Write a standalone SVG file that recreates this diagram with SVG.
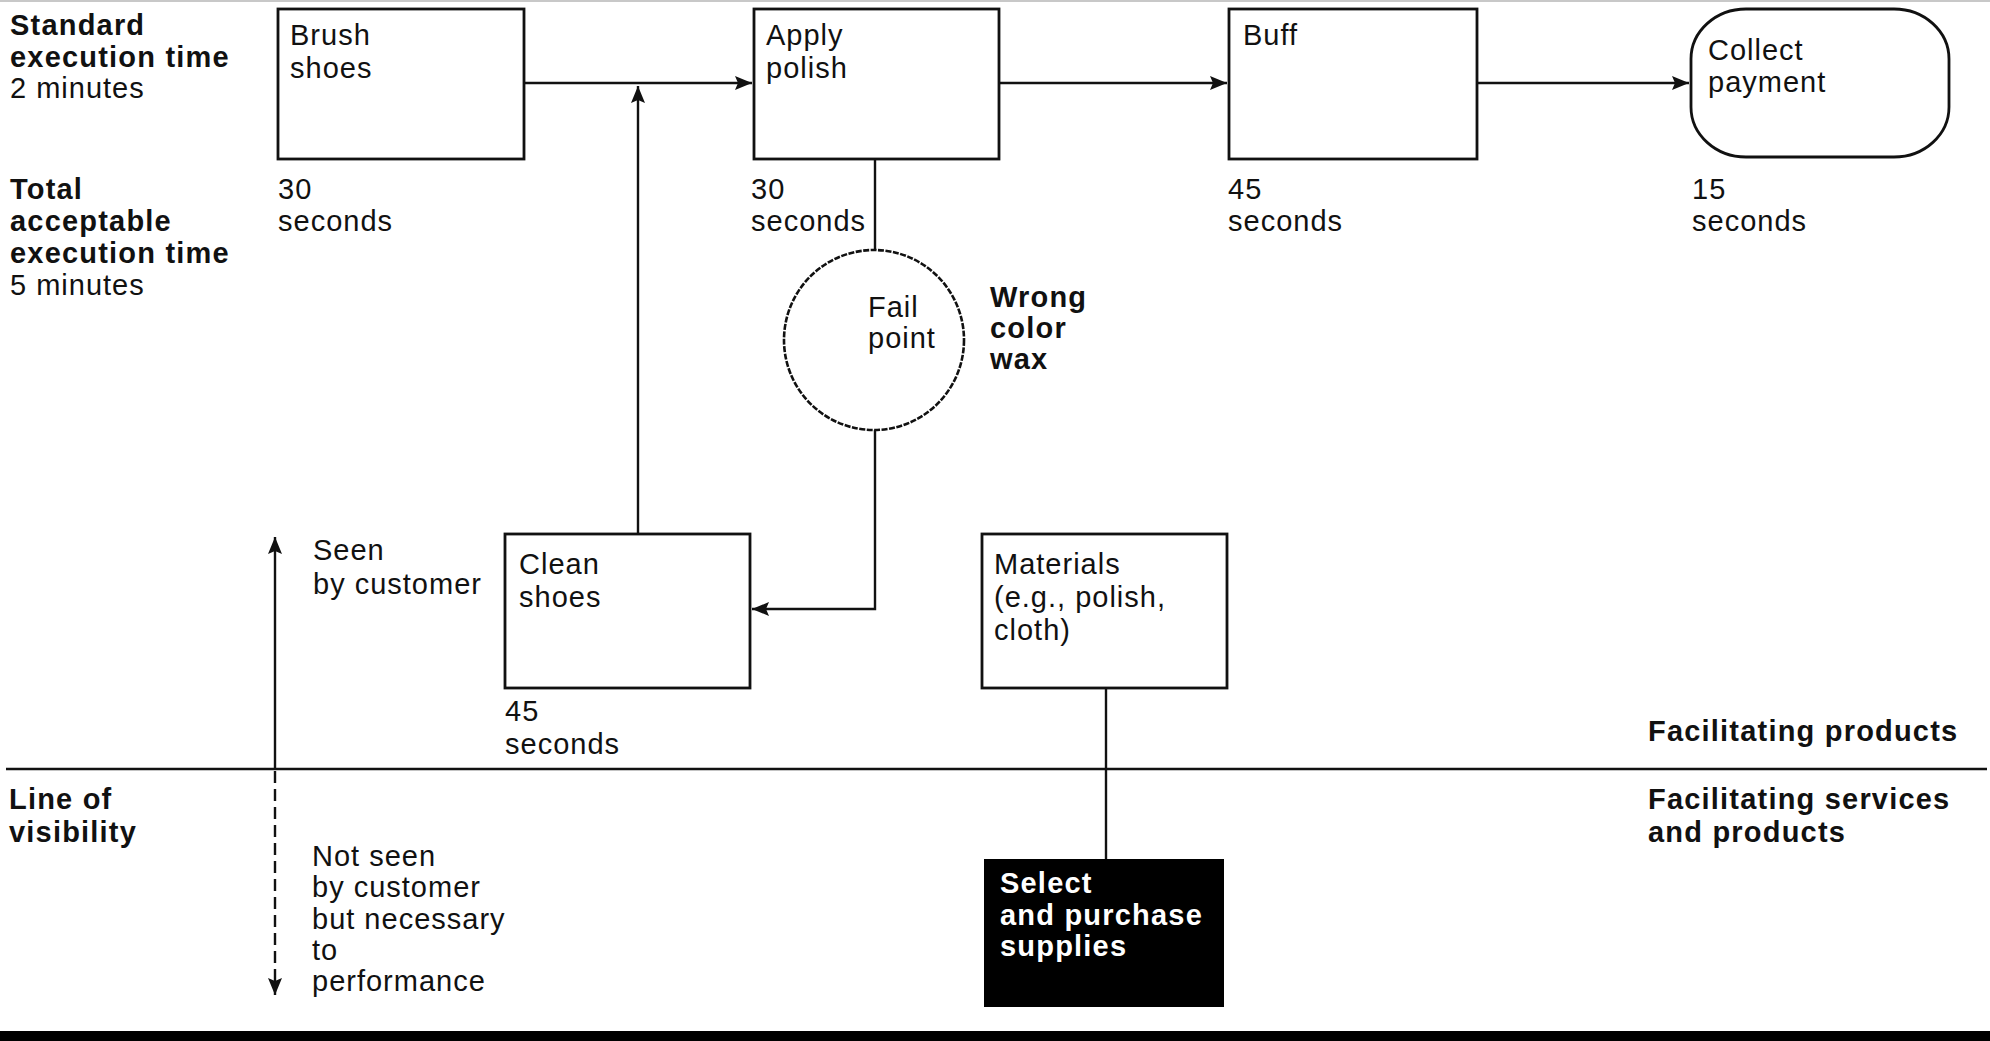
<svg xmlns="http://www.w3.org/2000/svg" width="1990" height="1041" viewBox="0 0 1990 1041">
<style>
  text { font-family: "Liberation Sans", Arial, sans-serif; font-size: 29px; fill: #111; letter-spacing: 1px; }
  .b { font-weight: bold; letter-spacing: 1.2px; }
  .w { fill: #fff; font-weight: bold; letter-spacing: 1.2px; }
  .box { fill: #fff; stroke: #111; stroke-width: 2.8; }
  .ln { fill: none; stroke: #111; stroke-width: 2.4; }
</style>
<defs>
  <marker id="ah" markerUnits="userSpaceOnUse" markerWidth="18" markerHeight="14" refX="17" refY="7" orient="auto">
    <path d="M0,0 L17,7 L0,14 L3,7 z" fill="#111"/>
  </marker>
</defs>
<rect x="0" y="0" width="1990" height="1041" fill="#fff"/>
<line x1="0" y1="1" x2="1990" y2="1" stroke="#c8c8c8" stroke-width="2"/>

<g id="left-labels">
  <text class="b" x="10" y="35">Standard</text>
  <text class="b" x="10" y="67">execution time</text>
  <text x="10" y="98">2 minutes</text>
  <text class="b" x="10" y="199">Total</text>
  <text class="b" x="10" y="231">acceptable</text>
  <text class="b" x="10" y="263">execution time</text>
  <text x="10" y="295">5 minutes</text>
  <text class="b" x="9" y="809">Line of</text>
  <text class="b" x="9" y="842">visibility</text>
</g>

<g id="connectors">
  <path class="ln" d="M524,83 H752" marker-end="url(#ah)"/>
  <path class="ln" d="M999,83 H1227" marker-end="url(#ah)"/>
  <path class="ln" d="M1477,83 H1689" marker-end="url(#ah)"/>
  <path class="ln" d="M638,534 V86" marker-end="url(#ah)"/>
  <path class="ln" d="M875,159 V250"/>
  <path class="ln" d="M875,430 V609 H752" marker-end="url(#ah)"/>
  <path class="ln" d="M1106,688 V859"/>
</g>

<g id="brush-shoes">
  <rect class="box" x="278" y="9" width="246" height="150"/>
  <text x="290" y="45">Brush</text>
  <text x="290" y="78">shoes</text>
  <text x="278" y="199">30</text>
  <text x="278" y="231">seconds</text>
</g>

<g id="apply-polish">
  <rect class="box" x="754" y="9" width="245" height="150"/>
  <text x="766" y="45">Apply</text>
  <text x="766" y="78">polish</text>
  <text x="751" y="199">30</text>
  <text x="751" y="231">seconds</text>
</g>

<g id="buff">
  <rect class="box" x="1229" y="9" width="248" height="150"/>
  <text x="1243" y="45">Buff</text>
  <text x="1228" y="199">45</text>
  <text x="1228" y="231">seconds</text>
</g>

<g id="collect-payment">
  <rect class="box" x="1691" y="9" width="258" height="148" rx="55" ry="50"/>
  <text x="1708" y="60">Collect</text>
  <text x="1708" y="92">payment</text>
  <text x="1692" y="199">15</text>
  <text x="1692" y="231">seconds</text>
</g>

<g id="fail-point">
  <circle cx="874" cy="340" r="90" fill="#fff" stroke="#111" stroke-width="2.6" stroke-dasharray="6 1.5"/>
  <text x="868" y="317">Fail</text>
  <text x="868" y="348">point</text>
  <text class="b" x="990" y="307">Wrong</text>
  <text class="b" x="990" y="338">color</text>
  <text class="b" x="990" y="369">wax</text>
</g>

<g id="clean-shoes">
  <rect class="box" x="505" y="534" width="245" height="154"/>
  <text x="519" y="574">Clean</text>
  <text x="519" y="607">shoes</text>
  <text x="505" y="721">45</text>
  <text x="505" y="754">seconds</text>
</g>

<g id="materials">
  <rect class="box" x="982" y="534" width="245" height="154"/>
  <text x="994" y="574">Materials</text>
  <text x="994" y="607">(e.g., polish,</text>
  <text x="994" y="640">cloth)</text>
</g>

<g id="select-supplies">
  <rect x="984" y="859" width="240" height="148" fill="#000"/>
  <text class="w" x="1000" y="893">Select</text>
  <text class="w" x="1000" y="925">and purchase</text>
  <text class="w" x="1000" y="956">supplies</text>
</g>

<g id="visibility">
  <line x1="6" y1="769" x2="1987" y2="769" stroke="#111" stroke-width="2.4"/>
  <path class="ln" d="M275,769 V537" marker-end="url(#ah)"/>
  <path class="ln" d="M275,771 V995" stroke-dasharray="12 6" marker-end="url(#ah)"/>
  <text x="313" y="560">Seen</text>
  <text x="313" y="594">by customer</text>
  <text x="312" y="866">Not seen</text>
  <text x="312" y="897">by customer</text>
  <text x="312" y="929">but necessary</text>
  <text x="312" y="960">to</text>
  <text x="312" y="991">performance</text>
  <text class="b" x="1648" y="741">Facilitating products</text>
  <text class="b" x="1648" y="809">Facilitating services</text>
  <text class="b" x="1648" y="842">and products</text>
</g>

<rect x="0" y="1031" width="1990" height="10" fill="#000"/>
</svg>
